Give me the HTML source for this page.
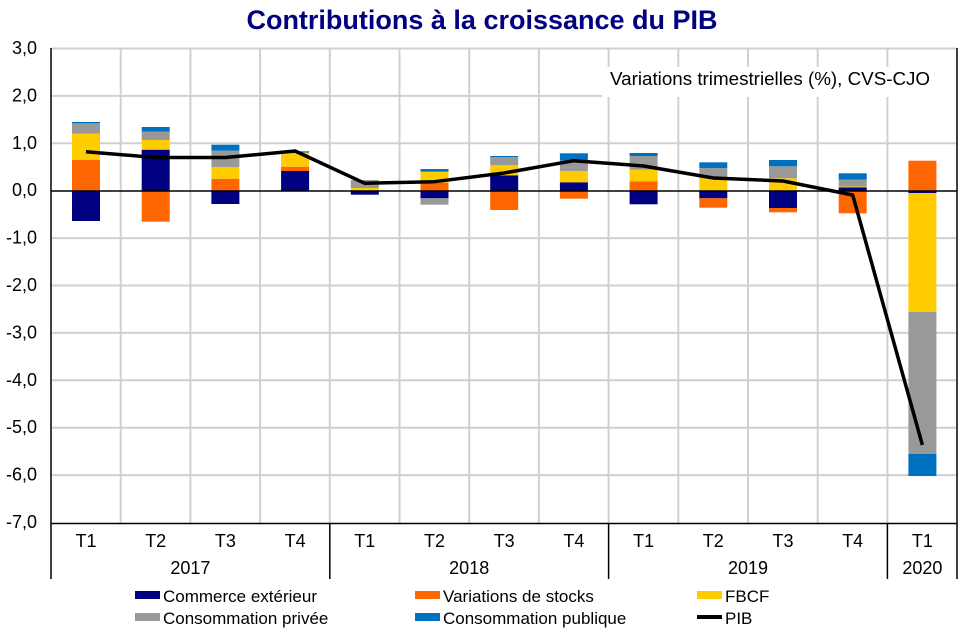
<!DOCTYPE html>
<html><head><meta charset="utf-8"><style>
body{margin:0;background:#fff}
svg{display:block;font-family:"Liberation Sans",Arial,sans-serif}
</style></head><body>
<svg width="976" height="637" viewBox="0 0 976 637">
<text x="482" y="29" text-anchor="middle" font-size="27" font-weight="bold" fill="#000080">Contributions à la croissance du PIB</text>
<g stroke="#d0d0d0" stroke-width="2">
<line x1="51" y1="48.5" x2="957" y2="48.5"/><line x1="51" y1="95.9" x2="957" y2="95.9"/><line x1="51" y1="143.3" x2="957" y2="143.3"/>
<line x1="51" y1="238.1" x2="957" y2="238.1"/><line x1="51" y1="285.5" x2="957" y2="285.5"/><line x1="51" y1="332.9" x2="957" y2="332.9"/>
<line x1="51" y1="380.3" x2="957" y2="380.3"/><line x1="51" y1="427.7" x2="957" y2="427.7"/><line x1="51" y1="475.1" x2="957" y2="475.1"/>
<line x1="120.7" y1="48" x2="120.7" y2="523"/><line x1="190.4" y1="48" x2="190.4" y2="523"/><line x1="260.1" y1="48" x2="260.1" y2="523"/><line x1="329.8" y1="48" x2="329.8" y2="523"/>
<line x1="399.5" y1="48" x2="399.5" y2="523"/><line x1="469.2" y1="48" x2="469.2" y2="523"/><line x1="538.9" y1="48" x2="538.9" y2="523"/><line x1="608.6" y1="48" x2="608.6" y2="523"/>
<line x1="678.3" y1="48" x2="678.3" y2="523"/><line x1="748" y1="48" x2="748" y2="523"/><line x1="817.7" y1="48" x2="817.7" y2="523"/><line x1="887.4" y1="48" x2="887.4" y2="523"/>
</g>
<rect x="602" y="67" width="354" height="30" fill="#fff"/>
<text x="610" y="85" font-size="18.8" fill="#000">Variations trimestrielles (%), CVS-CJO</text>
<g>
<rect x="72" y="160" width="28" height="31" fill="#FF6600"/><rect x="72" y="133.7" width="28" height="26.3" fill="#FFCC00"/><rect x="72" y="123.3" width="28" height="10.4" fill="#999"/><rect x="72" y="122" width="28" height="1.3" fill="#0070C0"/><rect x="72" y="191" width="28" height="30" fill="#000080"/>
<rect x="141.7" y="149.7" width="28" height="41.3" fill="#000080"/><rect x="141.7" y="140" width="28" height="9.7" fill="#FFCC00"/><rect x="141.7" y="131.7" width="28" height="8.3" fill="#999"/><rect x="141.7" y="127" width="28" height="4.7" fill="#0070C0"/><rect x="141.7" y="191" width="28" height="30.7" fill="#FF6600"/>
<rect x="211.4" y="178.7" width="28" height="12.3" fill="#FF6600"/><rect x="211.4" y="167" width="28" height="11.7" fill="#FFCC00"/><rect x="211.4" y="150.7" width="28" height="16.3" fill="#999"/><rect x="211.4" y="144.7" width="28" height="6" fill="#0070C0"/><rect x="211.4" y="191" width="28" height="13" fill="#000080"/>
<rect x="281.1" y="171" width="28" height="20" fill="#000080"/><rect x="281.1" y="166.7" width="28" height="4.3" fill="#FF6600"/><rect x="281.1" y="152.5" width="28" height="14.2" fill="#FFCC00"/><rect x="281.1" y="151.3" width="28" height="1.2" fill="#0070C0"/>
<rect x="350.8" y="188" width="28" height="3" fill="#FFCC00"/><rect x="350.8" y="180" width="28" height="8" fill="#999"/><rect x="350.8" y="191" width="28" height="3.7" fill="#000080"/>
<rect x="420.5" y="182.7" width="28" height="8.3" fill="#FF6600"/><rect x="420.5" y="171.7" width="28" height="11" fill="#FFCC00"/><rect x="420.5" y="169" width="28" height="2.7" fill="#0070C0"/><rect x="420.5" y="191" width="28" height="7.3" fill="#000080"/><rect x="420.5" y="198.3" width="28" height="6.4" fill="#999"/>
<rect x="490.2" y="175.3" width="28" height="15.7" fill="#000080"/><rect x="490.2" y="165.3" width="28" height="10" fill="#FFCC00"/><rect x="490.2" y="157" width="28" height="8.3" fill="#999"/><rect x="490.2" y="156" width="28" height="1" fill="#0070C0"/><rect x="490.2" y="191" width="28" height="19" fill="#FF6600"/>
<rect x="559.9" y="182.3" width="28" height="8.7" fill="#000080"/><rect x="559.9" y="171" width="28" height="11.3" fill="#FFCC00"/><rect x="559.9" y="160.7" width="28" height="10.3" fill="#999"/><rect x="559.9" y="153.3" width="28" height="7.4" fill="#0070C0"/><rect x="559.9" y="191" width="28" height="7.7" fill="#FF6600"/>
<rect x="629.6" y="181.3" width="28" height="9.7" fill="#FF6600"/><rect x="629.6" y="169.7" width="28" height="11.6" fill="#FFCC00"/><rect x="629.6" y="156" width="28" height="13.7" fill="#999"/><rect x="629.6" y="153" width="28" height="3" fill="#0070C0"/><rect x="629.6" y="191" width="28" height="13.3" fill="#000080"/>
<rect x="699.3" y="177" width="28" height="14" fill="#FFCC00"/><rect x="699.3" y="168" width="28" height="9" fill="#999"/><rect x="699.3" y="162.3" width="28" height="5.7" fill="#0070C0"/><rect x="699.3" y="191" width="28" height="7.3" fill="#000080"/><rect x="699.3" y="198.3" width="28" height="9.4" fill="#FF6600"/>
<rect x="769" y="178.3" width="28" height="12.7" fill="#FFCC00"/><rect x="769" y="166.3" width="28" height="12" fill="#999"/><rect x="769" y="160" width="28" height="6.3" fill="#0070C0"/><rect x="769" y="191" width="28" height="17" fill="#000080"/><rect x="769" y="208" width="28" height="4.3" fill="#FF6600"/>
<rect x="838.7" y="187.5" width="28" height="3.5" fill="#000080"/><rect x="838.7" y="186.5" width="28" height="1" fill="#FFCC00"/><rect x="838.7" y="179.7" width="28" height="6.8" fill="#999"/><rect x="838.7" y="173.3" width="28" height="6.4" fill="#0070C0"/><rect x="838.7" y="191" width="28" height="22.3" fill="#FF6600"/>
<rect x="908.4" y="160.7" width="28" height="30.3" fill="#FF6600"/><rect x="908.4" y="191" width="28" height="2" fill="#000080"/><rect x="908.4" y="193" width="28" height="119" fill="#FFCC00"/><rect x="908.4" y="312" width="28" height="142" fill="#999"/><rect x="908.4" y="454" width="28" height="22" fill="#0070C0"/>
</g>
<line x1="51" y1="191" x2="957" y2="191" stroke="#000" stroke-width="1.5"/>
<polyline fill="none" stroke="#000" stroke-width="3.5" stroke-linejoin="round" points="86,151.7 155.7,157.5 225.4,157.5 295.1,151 364.8,183.3 434.5,181.7 504.2,173 573.9,160.7 643.6,166 713.3,178 783,181 852.7,195 922.4,445"/>
<g stroke="#000" stroke-width="1.5">
<line x1="51" y1="48" x2="51" y2="579"/>
<line x1="957" y1="48" x2="957" y2="579"/>
<line x1="51" y1="523.5" x2="957" y2="523.5"/>
<line x1="329.8" y1="523" x2="329.8" y2="579"/>
<line x1="608.6" y1="523" x2="608.6" y2="579"/>
<line x1="887.4" y1="523" x2="887.4" y2="579"/>
</g>
<g font-size="18" text-anchor="end" fill="#000">
<text x="37" y="54">3,0</text><text x="37" y="101.4">2,0</text><text x="37" y="148.8">1,0</text><text x="37" y="196.2">0,0</text>
<text x="37" y="243.6">-1,0</text><text x="37" y="291">-2,0</text><text x="37" y="338.4">-3,0</text><text x="37" y="385.8">-4,0</text>
<text x="37" y="433.2">-5,0</text><text x="37" y="480.6">-6,0</text><text x="37" y="528">-7,0</text>
</g>
<g font-size="18" text-anchor="middle" fill="#000">
<text x="86" y="547">T1</text><text x="155.7" y="547">T2</text><text x="225.4" y="547">T3</text><text x="295.1" y="547">T4</text>
<text x="364.8" y="547">T1</text><text x="434.5" y="547">T2</text><text x="504.2" y="547">T3</text><text x="573.9" y="547">T4</text>
<text x="643.6" y="547">T1</text><text x="713.3" y="547">T2</text><text x="783" y="547">T3</text><text x="852.7" y="547">T4</text>
<text x="922.4" y="547">T1</text>
<text x="190.4" y="574">2017</text><text x="469.2" y="574">2018</text><text x="748" y="574">2019</text><text x="922.4" y="574">2020</text>
</g>
<g font-size="17" fill="#000">
<rect x="135" y="591" width="25" height="8" fill="#000080"/><text x="163" y="602">Commerce extérieur</text>
<rect x="415" y="591" width="25" height="8" fill="#FF6600"/><text x="443" y="602">Variations de stocks</text>
<rect x="697" y="591" width="25" height="8" fill="#FFCC00"/><text x="725" y="602">FBCF</text>
<rect x="135" y="613" width="25" height="8" fill="#999"/><text x="163" y="624">Consommation privée</text>
<rect x="415" y="613" width="25" height="8" fill="#0070C0"/><text x="443" y="624">Consommation publique</text>
<rect x="697" y="615" width="25" height="4" fill="#000"/><text x="725" y="624">PIB</text>
</g>
</svg>
</body></html>
